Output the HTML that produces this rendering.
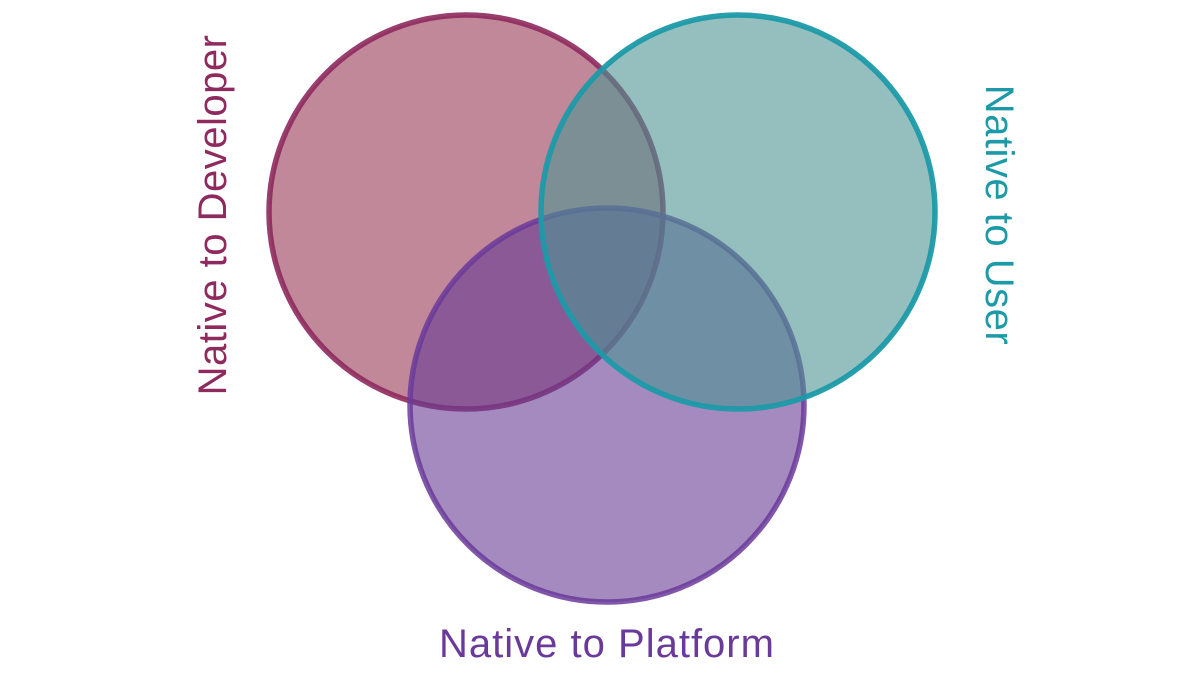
<!DOCTYPE html>
<html><head><style>
html,body{margin:0;padding:0;background:#fff;width:1200px;height:675px;overflow:hidden}
svg text{font-family:"Liberation Sans",sans-serif;font-size:40px}
</style></head><body>
<svg width="1200" height="675" viewBox="0 0 1200 675">
<rect width="1200" height="675" fill="#fff"/>
<circle cx="466" cy="212" r="197" fill="rgb(150,57,83)" fill-opacity="0.6" stroke="#8e2a5e" stroke-opacity="0.9" stroke-width="5.5"/>
<circle cx="607" cy="405" r="197" fill="rgb(103,60,148)" fill-opacity="0.6" stroke="#6a3a9a" stroke-opacity="0.85" stroke-width="5.5"/>
<circle cx="738" cy="212" r="197" fill="rgb(77,148,147)" fill-opacity="0.6" stroke="#1c9aa8" stroke-opacity="0.95" stroke-width="5.5"/>
<text transform="translate(226,215) rotate(-90)" text-anchor="middle" fill="#8e2a5e" letter-spacing="0.5">Native to Developer</text>
<text transform="translate(986,215) rotate(90)" text-anchor="middle" fill="#1c9aa8" letter-spacing="0.5">Native to User</text>
<text x="607" y="657" text-anchor="middle" fill="#6a3a9a" letter-spacing="1">Native to Platform</text>
</svg>
</body></html>
